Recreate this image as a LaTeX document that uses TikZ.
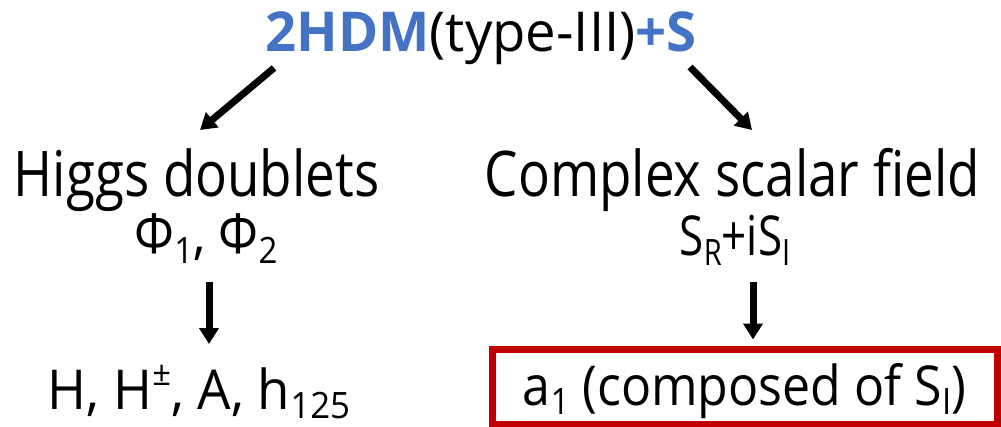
\documentclass[tikz,border=0pt]{standalone}
\usepackage{fontspec}
\setmainfont[FakeStretch=0.84]{Open Sans}
\newfontfamily\narrowsans[FakeStretch=0.91]{Open Sans}
\newfontfamily\plainsans[FakeStretch=0.96]{Open Sans}
\newfontfamily\widesans[FakeStretch=0.99]{Open Sans}
\usetikzlibrary{arrows.meta,calc}
\definecolor{titleblue}{HTML}{4472C4}
\definecolor{boxred}{HTML}{C00000}
% lowered and raised small text for indices
\newcommand\lo[1]{\raisebox{-0.18em}{\scalebox{0.66}{#1}}}
\newcommand\hi[1]{\raisebox{0.42em}{\scalebox{0.62}{#1}}}
\begin{document}
\begin{tikzpicture}[x=1pt,y=1pt,
  lbl/.style={inner sep=0pt, anchor=base},
  big/.style={font=\fontsize{63}{70}\selectfont},
  mid/.style={font=\fontsize{55}{62}\selectfont},
  arr/.style={line width=7pt, -{Triangle[width=19pt,length=16pt]}},
]
\useasboundingbox (0,0) rectangle (1001,426);

% heading
\node[lbl,mid] (title) at (481,374)
  {\widesans\textcolor{titleblue}{\bfseries 2HDM}(type-III)\textcolor{titleblue}{\bfseries +S}};

% left branch
\node[lbl,big] (higgs) at (196.5,229) {Higgs doublets};
\node[lbl,mid] (phi) at (206,172) {\narrowsans Φ\lo{1}, Φ\lo{2}};
\node[lbl,mid] (hlist) at (199,17) {\plainsans H, H\hi{±}, A, h\lo{125}};

% right branch
\node[lbl,big] (cplx) at (732.5,229) {Complex scalar field};
\node[lbl,mid] (sfield) at (735,170) {\fontspec[FakeStretch=0.8]{Open Sans}S\lo{R}+iS\lo{I}};
\node[lbl,mid, draw=boxred, line width=7pt, minimum width=505pt,
      text height=56pt, text depth=19pt] (a1) at (744.5,21)
  {\narrowsans a\lo{1} (composed of S\lo{I})};

% connectors
\draw[arr] ($(title.base)+(-207,-16)$) -- ($(higgs.base)+(3.5,67)$);
\draw[arr] ($(title.base)+(209,-15)$) -- ($(cplx.base)+(19.5,67)$);
\draw[arr] ($(phi.base)+(3,-28)$) -- ($(hlist.base)+(10,65)$);
\draw[arr] ($(sfield.base)+(18,-26)$) -- ([xshift=8.5pt,yshift=6pt]a1.north);
\end{tikzpicture}
\end{document}
